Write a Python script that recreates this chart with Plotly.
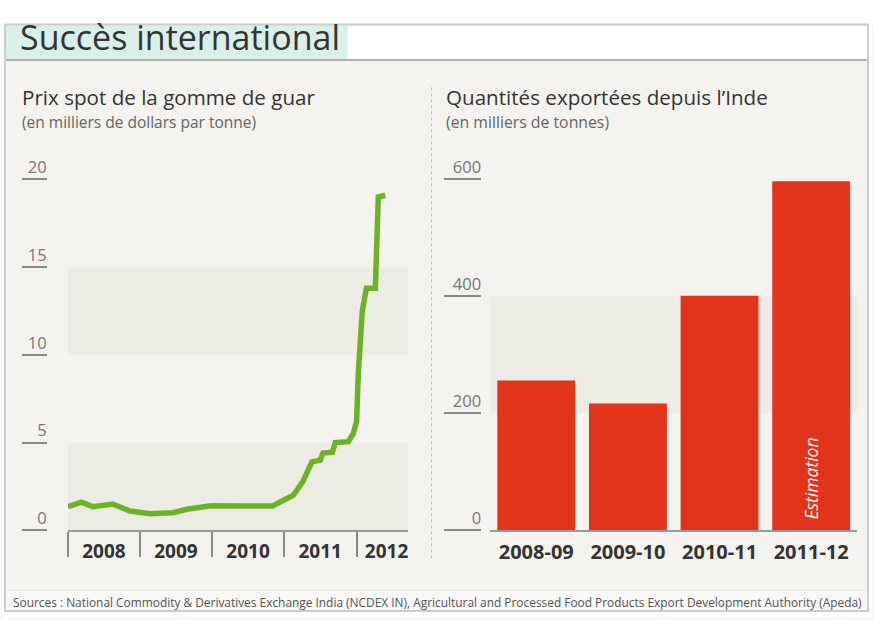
import plotly.graph_objects as go

W, H = 875, 620

# ---------------- data ----------------
price_dates = ["2008-01-01", "2008-03-10", "2008-05-05", "2008-08-15", "2008-11-10",
               "2009-02-20", "2009-06-15", "2009-08-25", "2009-12-25", "2010-04-15",
               "2010-11-01", "2010-12-25", "2011-02-15", "2011-04-05", "2011-05-20",
               "2011-07-01", "2011-07-15", "2011-09-01", "2011-09-15", "2011-11-20",
               "2011-12-15", "2012-01-01", "2012-01-10", "2012-01-30", "2012-02-20",
               "2012-04-05", "2012-04-20", "2012-05-25"]
price_values = [1.35, 1.6, 1.35, 1.5, 1.1,
                0.95, 1.0, 1.2, 1.4, 1.4,
                1.38, 1.7, 2.0, 2.8, 3.9,
                4.0, 4.4, 4.45, 5.0, 5.05,
                5.5, 6.2, 9.0, 12.5, 13.8,
                13.8, 19.0, 19.1]

year_labels = ["2008", "2009", "2010", "2011", "2012"]
year_label_pos = ["2008-07-01", "2009-07-01", "2010-07-01", "2011-07-01", "2012-06-01"]
year_bounds = ["2008-01-01", "2009-01-01", "2010-01-01", "2011-01-01", "2012-01-01"]
price_ticks = [0, 5, 10, 15, 20]

seasons = ["2008-09", "2009-10", "2010-11", "2011-12"]
exports = [256, 217, 401, 597]
export_ticks = [0, 200, 400, 600]

title = "Succès international"
left_title = "Prix spot de la gomme de guar"
left_sub = "(en milliers de dollars par tonne)"
right_title = "Quantités exportées depuis l’Inde"
right_sub = "(en milliers de tonnes)"
source = ("Sources : National Commodity & Derivatives Exchange India (NCDEX IN), "
          "Agricultural and Processed Food Products Export Development Authority (Apeda)")

# ---------------- layout helpers ----------------
# the photographed page is shown below a 22px band and squeezed vertically (~0.9645)
SQ, OFF = 0.9645, 22.0

def px(x):
    return x / W

def py(y):
    p = (y - OFF) / SQ
    p = min(max(p, 0.6), H - 0.6)
    return 1 - p / H

FONT = "Open Sans"
DARK = "#333333"
GREY_TXT = "#777777"
BAND = "#ecebe4"
BODY = "#f4f3ef"

fig = go.Figure()

fig.add_trace(go.Scatter(
    x=price_dates, y=price_values, mode="lines",
    line=dict(color="#6cb227", width=5.5),
    xaxis="x", yaxis="y", hoverinfo="skip", showlegend=False))

fig.add_trace(go.Bar(
    x=seasons, y=exports, marker=dict(color="#e2341a", line=dict(width=0)),
    xaxis="x2", yaxis="y2", hoverinfo="skip", showlegend=False))

ydom = [py(530), py(178)]

fig.update_layout(
    width=W, height=H,
    margin=dict(l=0, r=0, t=0, b=0),
    paper_bgcolor="white", plot_bgcolor="white",
    bargap=0.15,
    font=dict(family=FONT, color=DARK),
    xaxis=dict(
        domain=[px(68), px(408)], anchor="y", type="date",
        range=["2008-01-01", "2012-09-15"],
        showline=True, linecolor="#999999", linewidth=2,
        showgrid=False, zeroline=False,
        tickmode="array", tickvals=year_label_pos, ticktext=year_labels,
        ticks="", ticklabelstandoff=3,
        tickfont=dict(family=FONT, size=19, color=DARK, weight="bold"),
        minor=dict(tickmode="array", tickvals=year_bounds, ticks="outside",
                   ticklen=25, tickwidth=1.5, tickcolor="#888888", showgrid=False),
        fixedrange=True),
    yaxis=dict(
        domain=ydom, anchor="free", position=px(47), range=[0, 20],
        showline=False, showgrid=False, zeroline=False,
        tickmode="array", tickvals=price_ticks,
        ticks="outside", ticklen=25, tickwidth=1.5, tickcolor="#888888",
        ticklabelstandoff=-28, ticklabelshift=-12,
        tickfont=dict(family=FONT, size=16.5, color=GREY_TXT),
        fixedrange=True),
    xaxis2=dict(
        domain=[px(491), px(858)], anchor="y2", type="category",
        showline=True, linecolor="#999999", linewidth=2,
        showgrid=False, zeroline=False, ticks="", ticklabelstandoff=3,
        tickfont=dict(family=FONT, size=20, color=DARK, weight="bold"),
        fixedrange=True),
    yaxis2=dict(
        domain=ydom, anchor="free", position=px(482), range=[0, 600],
        showline=False, showgrid=False, zeroline=False,
        tickmode="array", tickvals=export_ticks,
        ticks="outside", ticklen=37, tickwidth=1.5, tickcolor="#888888",
        ticklabelstandoff=-40, ticklabelshift=-12,
        tickfont=dict(family=FONT, size=16.5, color=GREY_TXT),
        fixedrange=True),
)

shapes = []
# body background
shapes.append(dict(type="rect", xref="paper", yref="paper", x0=px(5), x1=px(869),
                   y0=py(590), y1=py(58), fillcolor=BODY, line=dict(width=0), layer="below"))
# source strip
shapes.append(dict(type="rect", xref="paper", yref="paper", x0=px(5), x1=px(869),
                   y0=py(611), y1=py(590), fillcolor="#f8f8f6", line=dict(width=0), layer="below"))
shapes.append(dict(type="line", xref="paper", yref="paper", x0=px(5), x1=px(869),
                   y0=py(590), y1=py(590), line=dict(color="#e2e2de", width=1), layer="below"))
# title banner
shapes.append(dict(type="rect", xref="paper", yref="paper", x0=px(6), x1=px(348),
                   y0=py(57), y1=py(9), fillcolor="#dbefe9", line=dict(width=0), layer="below"))
shapes.append(dict(type="line", xref="paper", yref="paper", x0=px(5), x1=px(869),
                   y0=py(58), y1=py(58), line=dict(color="#9a9a9a", width=1.5), layer="below"))
# outer border
shapes.append(dict(type="rect", xref="paper", yref="paper", x0=px(5), x1=px(869),
                   y0=py(611), y1=py(8), line=dict(color="#cccccc", width=2), layer="above"))
# dotted separator
shapes.append(dict(type="line", xref="paper", yref="paper", x0=px(432), x1=px(432),
                   y0=py(558), y1=py(85), line=dict(color="#bdbdbd", width=1, dash="dot"),
                   layer="below"))
# alternating bands
for lo, hi in [(0, 5), (10, 15)]:
    shapes.append(dict(type="rect", xref="x domain", yref="y", x0=0, x1=1, y0=lo, y1=hi,
                       fillcolor=BAND, line=dict(width=0), layer="below"))
shapes.append(dict(type="rect", xref="x2 domain", yref="y2", x0=0, x1=1, y0=200, y1=400,
                   fillcolor=BAND, line=dict(width=0), layer="below"))
# faint page edge frame
for x0, x1, y0, y1 in [(0, 1, 0.002, 0.002), (0.0015, 0.0015, 0, 1),
                       (0, 1, 0.998, 0.998), (0.9985, 0.9985, 0, 1)]:
    shapes.append(dict(type="line", xref="paper", yref="paper", x0=x0, x1=x1, y0=y0, y1=y1,
                       line=dict(color="#f3f3f3", width=1), layer="below"))
fig.update_layout(shapes=shapes)

ann = []
ann.append(dict(text=title, xref="paper", yref="paper", x=px(18), y=py(35),
                xanchor="left", yanchor="middle", showarrow=False,
                font=dict(family=FONT, size=34, color=DARK)))
for x0, t, s, ss in [(22, left_title, left_sub, 15.5), (447, right_title, right_sub, 15.8)]:
    ann.append(dict(text=t, xref="paper", yref="paper", x=px(x0 - 2), y=py(95),
                    xanchor="left", yanchor="middle", showarrow=False,
                    font=dict(family=FONT, size=20.6, color=DARK)))
    ann.append(dict(text=s, xref="paper", yref="paper", x=px(x0 - 2), y=py(120),
                    xanchor="left", yanchor="middle", showarrow=False,
                    font=dict(family=FONT, size=ss, color="#666666")))
ann.append(dict(text=source, xref="paper", yref="paper", x=px(11), y=py(602),
                xanchor="left", yanchor="middle", showarrow=False,
                font=dict(family=FONT, size=11.9, color="#555555")))
ann.append(dict(text="<i>Estimation</i>", xref="x2", yref="y2", x=seasons[-1], y=0,
                xanchor="center", yanchor="bottom", yshift=9, textangle=-90,
                showarrow=False, font=dict(family=FONT, size=17.5, color="white")))
fig.update_layout(annotations=ann)

fig.write_html("out.html")
